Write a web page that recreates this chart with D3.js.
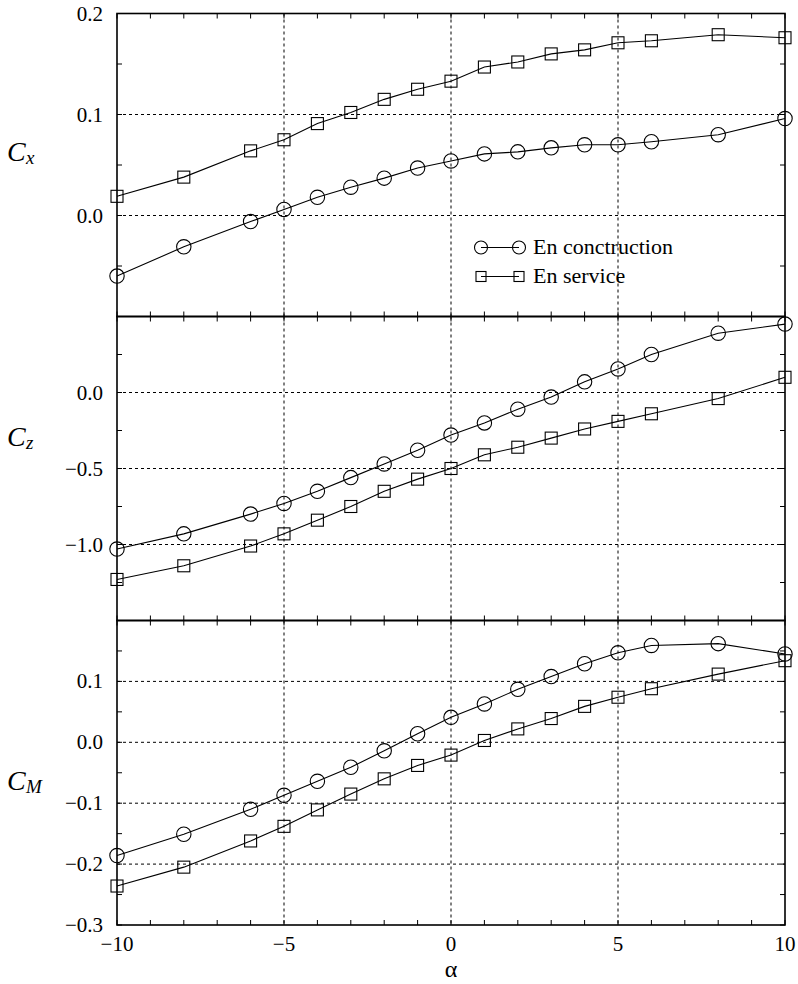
<!DOCTYPE html>
<html>
<head>
<meta charset="utf-8">
<script src="https://cdn.jsdelivr.net/npm/d3@7/dist/d3.min.js"></script>
</head>
<body style="margin:0">
<svg id="s" width="798" height="984"></svg>
<script>
// Angle of attack (degrees)
const alpha = [-10, -8, -6, -5, -4, -3, -2, -1, 0, 1, 2, 3, 4, 5, 6, 8, 10];

// Drag coefficient Cx
const cxConstruction = [-0.060, -0.031, -0.006, 0.006, 0.018, 0.028, 0.037, 0.047, 0.054, 0.061, 0.063, 0.067, 0.070, 0.070, 0.073, 0.080, 0.096];
const cxService      = [0.019, 0.038, 0.064, 0.075, 0.091, 0.102, 0.115, 0.125, 0.133, 0.147, 0.152, 0.160, 0.164, 0.171, 0.173, 0.179, 0.176];

// Lift coefficient Cz
const czConstruction = [-1.03, -0.93, -0.80, -0.73, -0.65, -0.56, -0.47, -0.38, -0.28, -0.20, -0.11, -0.03, 0.07, 0.155, 0.25, 0.39, 0.45];
const czService      = [-1.23, -1.14, -1.01, -0.93, -0.84, -0.75, -0.65, -0.57, -0.50, -0.41, -0.36, -0.30, -0.24, -0.19, -0.14, -0.04, 0.10];

// Moment coefficient CM
const cmConstruction = [-0.186, -0.151, -0.110, -0.087, -0.064, -0.041, -0.014, 0.014, 0.041, 0.063, 0.087, 0.108, 0.129, 0.147, 0.159, 0.162, 0.145];
const cmService      = [-0.236, -0.205, -0.162, -0.138, -0.111, -0.085, -0.060, -0.038, -0.021, 0.003, 0.022, 0.039, 0.059, 0.074, 0.088, 0.112, 0.134];

// Axis ticks and labels
const xDomain = [-10, 10];
const xLabelTicks = [-10, -5, 0, 5, 10];
const xGridTicks = [-5, 0, 5];
const xMinorTicks = d3.range(-10, 11, 1);

const seriesNames = ["En conctruction", "En service"];

const panelDefs = [
  { sym: "C", sub: "x", domain: [-0.1, 0.2], labels: [0.2, 0.1, 0.0], grid: [0.1, 0.0],
    ticks: [-0.1, -0.05, 0, 0.05, 0.1, 0.15, 0.2],
    a: cxConstruction, b: cxService, legend: true },
  { sym: "C", sub: "z", domain: [-1.5, 0.5], labels: [0.0, -0.5, -1.0], grid: [0.0, -0.5, -1.0],
    ticks: [-1.5, -1.25, -1.0, -0.75, -0.5, -0.25, 0, 0.25, 0.5],
    a: czConstruction, b: czService },
  { sym: "C", sub: "M", domain: [-0.3, 0.2], labels: [0.1, 0.0, -0.1, -0.2, -0.3], grid: [0.1, 0.0, -0.1, -0.2],
    ticks: [-0.3, -0.25, -0.2, -0.15, -0.1, -0.05, 0, 0.05, 0.1, 0.15, 0.2],
    a: cmConstruction, b: cmService }
];

const svg = d3.select("#s");
svg.append("rect").attr("width", 798).attr("height", 984).attr("fill", "#fff");

const left = 117, right = 785;
const panelTop = [13.5, 316.5, 620.5];
const panelBottom = [316.5, 620.5, 925];
const tickLen = 5;

const x = d3.scaleLinear().domain(xDomain).range([left, right]);
const fmtMinus = s => s.replace("-", "\u2212");
const fmt1 = d3.format(".1f");

function drawMarker(g, kind, cx, cy, size) {
  if (kind === "circle") {
    g.append("circle").attr("cx", cx).attr("cy", cy).attr("r", size)
      .attr("fill", "none").attr("stroke", "#000").attr("stroke-width", 1.1);
  } else {
    g.append("rect").attr("x", cx - size).attr("y", cy - size)
      .attr("width", 2 * size).attr("height", 2 * size)
      .attr("fill", "none").attr("stroke", "#000").attr("stroke-width", 1.1);
  }
}

// serif text element
function label(g, px, py, size, str) {
  return g.append("text").attr("x", px).attr("y", py).attr("font-size", size)
    .attr("font-family", "Liberation Serif").text(str);
}

panelDefs.forEach((p, i) => {
  const y = d3.scaleLinear().domain(p.domain).range([panelBottom[i], panelTop[i]]);
  const g = svg.append("g");

  // dotted grid
  const grid = g.append("g").attr("stroke", "#000").attr("stroke-width", 1)
    .attr("stroke-dasharray", "3,3");
  p.grid.forEach(v => grid.append("line")
    .attr("x1", left).attr("x2", right).attr("y1", y(v)).attr("y2", y(v)));
  xGridTicks.forEach(v => grid.append("line")
    .attr("x1", x(v)).attr("x2", x(v)).attr("y1", panelTop[i]).attr("y2", panelBottom[i]));

  // inward ticks, x on top and bottom
  const tk = g.append("g").attr("stroke", "#000").attr("stroke-width", 1);
  xMinorTicks.forEach(v => {
    tk.append("line").attr("x1", x(v)).attr("x2", x(v))
      .attr("y1", panelTop[i]).attr("y2", panelTop[i] + tickLen);
    tk.append("line").attr("x1", x(v)).attr("x2", x(v))
      .attr("y1", panelBottom[i]).attr("y2", panelBottom[i] - tickLen);
  });
  // y ticks on left and right
  p.ticks.forEach(v => {
    tk.append("line").attr("x1", left).attr("x2", left + tickLen)
      .attr("y1", y(v)).attr("y2", y(v));
    tk.append("line").attr("x1", right).attr("x2", right - tickLen)
      .attr("y1", y(v)).attr("y2", y(v));
  });

  // y tick labels
  p.labels.forEach(v => {
    label(g, left - 14, y(v) + 7, 21, fmtMinus(fmt1(v))).attr("text-anchor", "end");
  });

  // series lines and markers
  const line = d3.line().x((d, k) => x(alpha[k])).y(d => y(d));
  [[p.a, "circle", 7.2], [p.b, "square", 6]].forEach(([vals, kind, sz]) => {
    g.append("path").datum(vals).attr("d", line)
      .attr("fill", "none").attr("stroke", "#000").attr("stroke-width", 1.1);
    const mg = g.append("g");
    vals.forEach((v, k) => drawMarker(mg, kind, x(alpha[k]), y(v), sz));
  });

  // frame
  g.append("rect").attr("x", left).attr("y", panelTop[i])
    .attr("width", right - left).attr("height", panelBottom[i] - panelTop[i])
    .attr("fill", "none").attr("stroke", "#000").attr("stroke-width", 1.6);

  // axis title C with subscript
  const baseY = [161, 446, 790][i];
  label(g, 7, baseY, 28, p.sym).attr("font-style", "italic");
  label(g, 26, baseY + 3, 19, p.sub).attr("font-style", "italic");

  // legend
  if (p.legend) {
    const lg = g.append("g");
    const rows = [["circle", 247.5, 6.5], ["square", 276.5, 5]];
    rows.forEach(([kind, ly, sz], r) => {
      lg.append("line").attr("x1", 481).attr("x2", 519).attr("y1", ly).attr("y2", ly)
        .attr("stroke", "#000").attr("stroke-width", 1.1);
      drawMarker(lg, kind, 481, ly, sz);
      drawMarker(lg, kind, 519, ly, sz);
      label(lg, 533, ly + 6.5, 22, seriesNames[r]);
    });
  }
});

// x tick labels under the bottom panel
xLabelTicks.forEach(v => {
  label(svg, x(v), 951, 21, fmtMinus(String(v))).attr("text-anchor", "middle");
});

// x axis title
label(svg, x(0), 977, 24, "\u03b1").attr("text-anchor", "middle");
</script>
</body>
</html>
